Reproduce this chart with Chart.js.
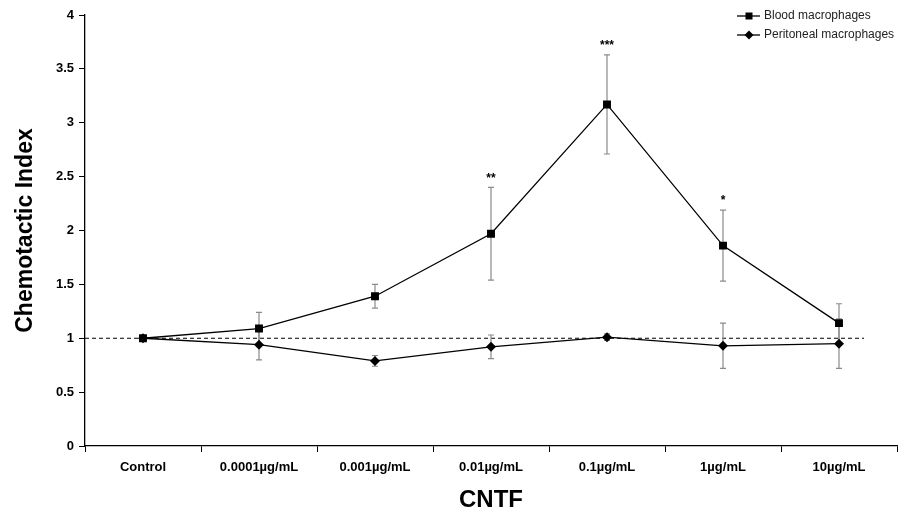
<!DOCTYPE html>
<html>
<head>
<meta charset="utf-8">
<script src="https://cdn.jsdelivr.net/npm/chart.js@4.4.0/dist/chart.umd.min.js"></script>
<style>
  html, body { margin: 0; padding: 0; background: #fff; }
  #wrap { width: 919px; height: 523px; }
</style>
</head>
<body>
<div id="wrap"><canvas id="chart" width="919" height="523"></canvas></div>
<script>
// Data
const doses = ['Control', '0.0001µg/mL', '0.001µg/mL', '0.01µg/mL', '0.1µg/mL', '1µg/mL', '10µg/mL'];
const bloodMean = [1.00, 1.09, 1.39, 1.97, 3.17, 1.86, 1.14];
const bloodErr = [0, 0.15, 0.11, 0.43, 0.46, 0.33, 0.18];
const periMean = [1.00, 0.94, 0.79, 0.92, 1.01, 0.93, 0.95];
const periErr = [0, 0.14, 0.05, 0.11, 0.03, 0.21, 0.23];
const stars = ['', '', '', '**', '***', '*', ''];
const yTicks = [0, 0.5, 1, 1.5, 2, 2.5, 3, 3.5, 4];
const refLine = 1;

const FONT = "'Liberation Sans', Arial, sans-serif";

// dashed control line + error bars + significance marks
const extras = {
    id: 'extras',
    beforeDatasetsDraw(chart) {
        const ctx = chart.ctx;
        const x = chart.scales.x, y = chart.scales.y;
        ctx.save();
        // reference line
        ctx.strokeStyle = '#000';
        ctx.lineWidth = 1.2;
        ctx.setLineDash([4, 3]);
        ctx.beginPath();
        ctx.moveTo(chart.chartArea.left, y.getPixelForValue(refLine));
        ctx.lineTo(x.getPixelForValue(doses.length - 1) + 25, y.getPixelForValue(refLine));
        ctx.stroke();
        ctx.setLineDash([]);
        // error bars
        ctx.strokeStyle = '#8a8a8a';
        ctx.lineWidth = 1.2;
        [[bloodMean, bloodErr], [periMean, periErr]].forEach(([m, e]) => {
            m.forEach((v, i) => {
                if (!e[i]) return;
                const px = x.getPixelForValue(i);
                const top = y.getPixelForValue(v + e[i]);
                const bot = y.getPixelForValue(v - e[i]);
                ctx.beginPath();
                ctx.moveTo(px, top); ctx.lineTo(px, bot);
                ctx.moveTo(px - 3, top); ctx.lineTo(px + 3, top);
                ctx.moveTo(px - 3, bot); ctx.lineTo(px + 3, bot);
                ctx.stroke();
            });
        });
        // asterisks
        ctx.fillStyle = '#000';
        ctx.font = 'bold 12px ' + FONT;
        ctx.textAlign = 'center';
        ctx.textBaseline = 'bottom';
        stars.forEach((s, i) => {
            if (!s) return;
            ctx.fillText(s, x.getPixelForValue(i), y.getPixelForValue(bloodMean[i] + bloodErr[i]) - 3);
        });
        ctx.restore();
    },
    afterDraw(chart) {
        // legend with line + marker
        const ctx = chart.ctx;
        ctx.save();
        chart.data.datasets.forEach((ds, i) => {
            const ly = 16 + i * 19;
            ctx.strokeStyle = '#000';
            ctx.lineWidth = 1.3;
            ctx.beginPath();
            ctx.moveTo(737, ly); ctx.lineTo(760, ly);
            ctx.stroke();
            ctx.fillStyle = '#000';
            ctx.beginPath();
            if (ds.pointStyle === 'rect') {
                ctx.rect(745.5, ly - 3.5, 7, 7);
            } else {
                ctx.moveTo(749, ly - 4.5); ctx.lineTo(753.5, ly);
                ctx.lineTo(749, ly + 4.5); ctx.lineTo(744.5, ly);
                ctx.closePath();
            }
            ctx.fill();
            ctx.font = '12px ' + FONT;
            ctx.fillStyle = '#222';
            ctx.textAlign = 'left';
            ctx.textBaseline = 'middle';
            ctx.fillText(ds.label, 764, ly);
        });
        ctx.restore();
    }
};

new Chart(document.getElementById('chart'), {
    type: 'line',
    data: {
        labels: doses,
        datasets: [{
            label: 'Blood macrophages',
            data: bloodMean,
            borderColor: '#000',
            borderWidth: 1.3,
            backgroundColor: '#000',
            pointStyle: 'rect',
            pointRadius: 5.6,
            pointBorderWidth: 0,
            tension: 0
        }, {
            label: 'Peritoneal macrophages',
            data: periMean,
            borderColor: '#000',
            borderWidth: 1.3,
            backgroundColor: '#000',
            pointStyle: 'rectRot',
            pointRadius: 5,
            pointBorderWidth: 0,
            tension: 0
        }]
    },
    options: {
        responsive: false,
        animation: false,
        layout: { padding: { top: 15, right: 22, left: 0, bottom: 0 } },
        plugins: {
            legend: { display: false },
            tooltip: { enabled: false }
        },
        scales: {
            x: {
                offset: true,
                grid: { offset: true, drawOnChartArea: false, color: '#000', tickLength: 6, lineWidth: 1 },
                border: { color: '#000', width: 1.3 },
                ticks: { color: '#000', font: { family: FONT, size: 13, weight: 'bold' }, padding: 8, maxRotation: 0, autoSkip: false },
                title: { display: true, text: 'CNTF', color: '#000', font: { family: FONT, size: 24, weight: 'bold' }, padding: { top: 4, bottom: 8 } },
                afterFit(scale) { scale.height = 77; }
            },
            y: {
                min: 0,
                max: 4,
                afterBuildTicks(scale) { scale.ticks = yTicks.map(v => ({ value: v })); },
                grid: { drawOnChartArea: false, color: '#000', tickLength: 6 },
                border: { color: '#000', width: 1.3 },
                ticks: { color: '#000', font: { family: FONT, size: 13, weight: 'bold' }, padding: 5, callback: v => String(v) },
                title: { display: true, text: 'Chemotactic Index', color: '#000', font: { family: FONT, size: 23, weight: 'bold' }, padding: { top: 12, bottom: 0 } },
                afterFit(scale) { scale.width = 85; }
            }
        }
    },
    plugins: [extras]
});
</script>
</body>
</html>
